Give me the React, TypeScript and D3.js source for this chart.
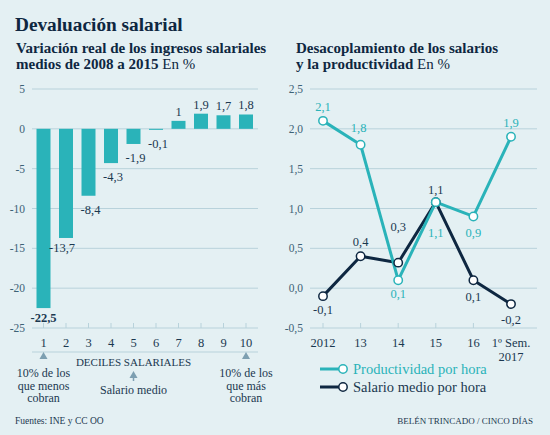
import * as d3 from "d3";

// left panel: real change of mean wage income 2008-2015 by decile
const deciles = [1, 2, 3, 4, 5, 6, 7, 8, 9, 10];
const decileChange = [-22.5, -13.7, -8.4, -4.3, -1.9, -0.1, 1, 1.9, 1.7, 1.8];
const leftTicks = [5, 0, -5, -10, -15, -20, -25];

// right panel: productivity vs wage per hour
const periods = ["2012", "13", "14", "15", "16", "1º Sem."];
const productividad = [2.1, 1.8, 0.1, 1.08, 0.9, 1.9];
const salario = [-0.1, 0.4, 0.32, 1.08, 0.1, -0.2];
const productividadLabels = ["2,1", "1,8", "0,1", "1,1", "0,9", "1,9"];
const salarioLabels = ["-0,1", "0,4", "0,3", "1,1", "0,1", "-0,2"];
const rightTicks = [2.5, 2.0, 1.5, 1.0, 0.5, 0.0, -0.5];

const BG = "#e4f0f3";
const GRID = "#b8d2db";
const TEAL = "#2ab3b9";
const NAVY = "#0e2741";
const TEXT = "#1b3850";
const AXIS_TXT = "#3d6276";
const FONT = "'Liberation Serif', serif";

const fmt = (v: number) => (Number.isInteger(v) ? String(v) : String(v).replace(".", ","));

// vertical label offsets from the point (px)
const prodDy = [-10, -13, 18, 35, 21, -10];
const salDy = [18, -10, -32, -8, 21, 20];

function LeftChart() {
  const y = d3.scaleLinear().domain([-25, 5]).range([328, 89]);
  const x = d3.scalePoint<number>().domain(deciles).range([43.5, 246]);
  const bw = 14;
  const x0 = 32;
  const x1 = 258;

  return (
    <g>
      {leftTicks.map((t) => (
        <g key={t}>
          <line x1={x0} x2={x1} y1={y(t)} y2={y(t)} stroke={GRID} strokeWidth={t === -25 ? 1.2 : 1} />
          <text x={25} y={y(t) + 4} textAnchor="end" fontSize={11.5} fill={AXIS_TXT}>
            {t}
          </text>
        </g>
      ))}
      {deciles.map((d) => (
        <line key={d} x1={x(d)} x2={x(d)} y1={y(-25) - 5} y2={y(-25)} stroke={GRID} strokeWidth={1} />
      ))}
      {deciles.map((d, i) => {
        const v = decileChange[i];
        const top = Math.min(y(v), y(0));
        const h = Math.abs(y(v) - y(0));
        return (
          <g key={d}>
            <rect x={x(d)! - bw / 2} y={top} width={bw} height={Math.max(h, 1)} fill={TEAL} />
            <text
              x={x(d)! + (i === 1 ? -4 : i > 1 && v < 0 ? 2 : 0)}
              y={v < 0 ? y(v) + (i < 2 ? 14 : 18) : y(v) - 5}
              textAnchor="middle"
              fontSize={12.5}
              fill={TEXT}
              fontWeight={i === 0 ? "bold" : "normal"}
            >
              {fmt(v)}
            </text>
            <text x={x(d)} y={347} textAnchor="middle" fontSize={12.5} fill={TEXT}>
              {d}
            </text>
          </g>
        );
      })}
      <line x1={x0} x2={x1} y1={352} y2={352} stroke={GRID} strokeWidth={1} />
      {[1, 10].map((d) => (
        <path key={d} d={`M${x(d)! - 4},359 L${x(d)},352 L${x(d)! + 4},359 Z`} fill="#7d9fb1" />
      ))}
      <path d={`M${x(5)! - 4},378 L${x(5)},371 L${x(5)! + 4},378 Z`} fill="#7d9fb1" />
      <line x1={x(5)} x2={x(5)} y1={377} y2={381} stroke="#7d9fb1" strokeWidth={1.5} />
      <text x={x(5)} y={366} textAnchor="middle" fontSize={11} fill={TEXT}>
        DECILES SALARIALES
      </text>
      <text x={x(5)} y={394} textAnchor="middle" fontSize={12} fill={TEXT}>
        Salario medio
      </text>
      {[
        [1, ["10% de los", "que menos", "cobran"]],
        [10, ["10% de los", "que más", "cobran"]],
      ].map(([d, lines]) => (
        <text key={d as number} x={x(d as number)} textAnchor="middle" fontSize={12} fill={TEXT}>
          {(lines as string[]).map((l, j) => (
            <tspan key={j} x={x(d as number)} y={377 + j * 12.5}>
              {l}
            </tspan>
          ))}
        </text>
      ))}
    </g>
  );
}

function RightChart() {
  const y = d3.scaleLinear().domain([-0.5, 2.5]).range([328, 89]);
  const x = d3.scalePoint<string>().domain(periods).range([323, 511]);
  const x0 = 310;
  const x1 = 537;
  const line = d3
    .line<number>()
    .x((_, i) => x(periods[i])!)
    .y((v) => y(v));

  const series = [
    { values: salario, labels: salarioLabels, dy: salDy, color: NAVY },
    { values: productividad, labels: productividadLabels, dy: prodDy, color: TEAL },
  ];

  return (
    <g>
      {rightTicks.map((t) => (
        <g key={t}>
          <line x1={x0} x2={x1} y1={y(t)} y2={y(t)} stroke={GRID} strokeWidth={t === -0.5 ? 1.2 : 1} />
          <text x={303} y={y(t) + 4} textAnchor="end" fontSize={11.5} fill={AXIS_TXT}>
            {t.toFixed(1).replace(".", ",")}
          </text>
        </g>
      ))}
      {periods.map((p) => (
        <g key={p}>
          <line x1={x(p)} x2={x(p)} y1={y(-0.5) - 5} y2={y(-0.5)} stroke={GRID} />
          <text x={x(p)} y={347} textAnchor="middle" fontSize={12.5} fill={TEXT}>
            {p}
          </text>
        </g>
      ))}
      <text x={x(periods[5])} y={361} textAnchor="middle" fontSize={12.5} fill={TEXT}>
        2017
      </text>
      {series.map((s) => (
        <path key={s.color} d={line(s.values)!} fill="none" stroke={s.color} strokeWidth={3} strokeLinejoin="round" />
      ))}
      {series.map((s) =>
        s.values.map((v, i) => (
          <circle key={s.color + i} cx={x(periods[i])} cy={y(v)} r={4.2} fill="#fff" stroke={s.color} strokeWidth={1.5} />
        ))
      )}
      {series.map((s) =>
        s.values.map((v, i) => (
          <text
            key={"l" + s.color + i}
            x={x(periods[i])! + (s.color === TEAL && i === 1 ? -2 : 0)}
            y={y(v) + s.dy[i]}
            textAnchor="middle"
            fontSize={12.5}
            fill={s.color === TEAL ? TEAL : TEXT}
          >
            {s.labels[i]}
          </text>
        ))
      )}
      {[
        { label: "Productividad por hora", color: TEAL, yy: 369 },
        { label: "Salario medio por hora", color: NAVY, yy: 387 },
      ].map((l) => (
        <g key={l.label}>
          <line x1={320} x2={343} y1={l.yy} y2={l.yy} stroke={l.color} strokeWidth={3} />
          <circle cx={343} cy={l.yy} r={4.2} fill="#fff" stroke={l.color} strokeWidth={1.5} />
          <text x={353} y={l.yy + 5} fontSize={14.5} fill={l.color === TEAL ? TEAL : TEXT}>
            {l.label}
          </text>
        </g>
      ))}
    </g>
  );
}

export default function App() {
  return (
    <svg
      width={550}
      height={435}
      style={{ position: "absolute", left: 0, top: 0 }}
      fontFamily={FONT}
    >
      <rect width={550} height={435} fill={BG} />
      <text x={15} y={31} fontSize={19.3} fontWeight="bold" fill={NAVY}>
        Devaluación salarial
      </text>
      <text x={16} y={53} fontSize={15} fontWeight="bold" fill={NAVY}>
        Variación real de los ingresos salariales
      </text>
      <text x={16} y={69} fontSize={15} fontWeight="bold" fill={NAVY}>
        medios de 2008 a 2015 <tspan fontWeight="normal">En %</tspan>
      </text>
      <text x={296} y={53} fontSize={15} fontWeight="bold" fill={NAVY}>
        Desacoplamiento de los salarios
      </text>
      <text x={296} y={69} fontSize={15} fontWeight="bold" fill={NAVY}>
        y la productividad <tspan fontWeight="normal">En %</tspan>
      </text>
      <LeftChart />
      <RightChart />
      <text x={15} y={424} fontSize={9.5} fill={TEXT}>
        Fuentes: INE y CC OO
      </text>
      <text x={533} y={424} textAnchor="end" fontSize={9} fill={TEXT}>
        BELÉN TRINCADO / CINCO DÍAS
      </text>
    </svg>
  );
}
